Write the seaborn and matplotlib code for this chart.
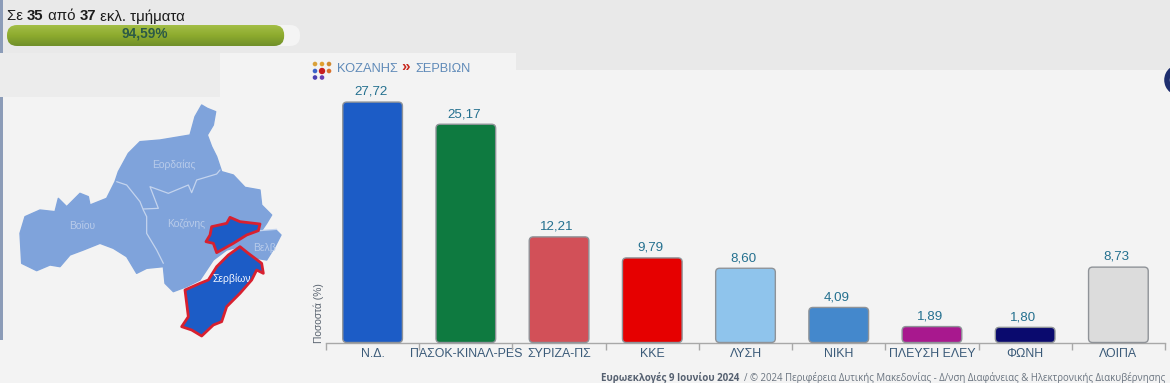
import numpy as np
import matplotlib
matplotlib.use('Agg')
import matplotlib.pyplot as plt
import seaborn as sns
from matplotlib.patches import FancyBboxPatch, Polygon, Rectangle, Circle, Arc
from matplotlib.transforms import IdentityTransform

# data
parties = ['Ν.Δ.', 'ΠΑΣΟΚ-ΚΙΝΑΛ-PES', 'ΣΥΡΙΖΑ-ΠΣ', 'ΚΚΕ', 'ΛΥΣΗ', 'ΝΙΚΗ', 'ΠΛΕΥΣΗ ΕΛΕΥ', 'ΦΩΝΗ', 'ΛΟΙΠΑ']
percent = [27.72, 25.17, 12.21, 9.79, 8.60, 4.09, 1.89, 1.80, 8.73]
party_colors = ['#1c5cc6', '#0e7a40', '#d25058', '#e60000', '#8fc4ec', '#4488cc', '#a8188e', '#0a0a6e', '#dcdcdc']
counted = 35
total = 37
counted_pct = 94.59

region = [(605,15),(622,25),(647,35),(640,75),(622,105),(635,140),(650,170),(665,215),(700,225),(735,262),
          (780,270),(785,315),(815,345),(800,370),(785,392),(830,392),(843,405),(825,440),(800,480),(740,470),
          (720,440),(680,450),(640,480),(600,540),(560,560),(520,575),(495,550),(490,500),(440,505),(410,520),
          (380,470),(340,445),(300,430),(250,450),(210,465),(180,500),(150,495),(110,512),(65,490),(60,400),
          (75,350),(120,330),(165,335),(175,295),(200,320),(240,280),(265,290),(270,315),(320,295),(345,245),
          (355,215),(385,160),(420,125),(480,120),(570,105),(585,50)]
servia_south = [(720,440),(745,460),(785,490),(790,520),(770,510),(755,540),(720,580),(680,620),(665,665),(640,675),
                (605,708),(575,690),(545,680),(565,650),(555,570),(600,550),(625,540),(650,500),(685,465)]
servia_north = [(635,380),(680,370),(690,352),(720,365),(780,372),(775,392),(740,405),(700,430),(650,458),(640,430),
                (618,425),(630,405)]
border_a = [(350,245),(380,255),(420,305),(430,330),(440,350),(440,400),(470,450),(490,490)]
border_b = [(430,327),(475,325),(450,260),(505,280),(565,255),(575,278),(590,240),(650,222),(660,210)]
border_c = [(780,392),(830,388)]


def crop_to_px(pts):
    return [(x / 3, 100 + y / 3) for x, y in pts]


sns.set_style('white')
plt.rcParams['font.family'] = ['Liberation Sans', 'DejaVu Sans']

fig = plt.figure(figsize=(11.7, 3.83), dpi=100, facecolor='#f3f3f3')
renderer = fig.canvas.get_renderer()

# background layer in pixel coords
bg = fig.add_axes([0, 0, 1, 1], zorder=0)
bg.set_xlim(0, 1170)
bg.set_ylim(383, 0)
bg.axis('off')
bg.add_patch(Rectangle((0, 0), 1170, 70, color='#e9e9e9', lw=0))
bg.add_patch(Rectangle((0, 53), 220, 44, color='#ececec', lw=0))
bg.add_patch(Rectangle((220, 53), 296, 17, color='#f3f3f3', lw=0))
bg.add_patch(Rectangle((0, 0), 2.5, 53, color='#8c9cb8', lw=0))
bg.add_patch(Rectangle((0, 97), 2.5, 243, color='#8c9cb8', lw=0))
bg.add_patch(Arc((1180, 80), 26, 26, theta1=130, theta2=230, color='#1f2f6f', lw=4))

# progress text, pieces placed one after another
x = 7
for piece, weight in [('Σε ', 'normal'), (str(counted), 'bold'), (' από ', 'normal'), (str(total), 'bold'), (' εκλ. τμήματα', 'normal')]:
    t = bg.text(x, 16.5, piece.replace(' ', '\u00a0'), fontsize=10.8, fontweight=weight, color='#1c1c1c', va='center', ha='left')
    x = x + t.get_window_extent(renderer).width

# progress bar
track = FancyBboxPatch((7, 25), 293, 21, boxstyle='round,pad=0,rounding_size=10', fc='#f4f4f4', ec='none')
bg.add_patch(track)
fill_w = 293 * counted_pct / 100
fill = FancyBboxPatch((7, 25), fill_w, 21, boxstyle='round,pad=0,rounding_size=10', fc='none', ec='none')
bg.add_patch(fill)
grad = np.linspace(0, 1, 21)[:, None]
img = bg.imshow(grad, extent=(7, 7 + fill_w, 46, 25), aspect='auto', zorder=2,
                cmap=matplotlib.colors.LinearSegmentedColormap.from_list('g', ['#a2bd45', '#8dab2e', '#71902a']))
img.set_clip_path(fill)
bg.set_xlim(0, 1170)
bg.set_ylim(383, 0)
bg.text(144.5, 34, '94,59%', fontsize=9.8, fontweight='bold', color='#2c5a46', ha='center', va='center', zorder=3)

# map
bg.add_patch(Polygon(crop_to_px(region), closed=True, fc='#7fa3db', ec='#7fa3db', lw=1, joinstyle='round', zorder=2))
for line in [border_a, border_b, border_c]:
    pts = np.array(crop_to_px(line))
    bg.plot(pts[:, 0], pts[:, 1], color='#c4d4ee', lw=0.9, zorder=3)
for shape in [servia_south, servia_north]:
    bg.add_patch(Polygon(crop_to_px(shape), closed=True, fc='#1c5cc6', ec='#d8202f', lw=2, joinstyle='round', zorder=4))
for label, px, py in [('Εορδαίας', 174, 165), ('Βοΐου', 82, 226), ('Κοζάνης', 186, 224), ('Βελβ', 264, 248)]:
    bg.text(px, py, label, fontsize=7.5, color='#b8cbea', ha='center', va='center', zorder=3)
bg.text(232, 279, 'Σερβίων', fontsize=7.5, color='#f2f6ff', ha='center', va='center', zorder=5)

# breadcrumb icon
icon_colors = ['#d9a13a', '#e0a030', '#d08a30', '#3c63c8', '#c81e1e', '#d9702a', '#4a3fb0', '#6a3fb0']
icon_spots = [(315, 64), (322, 64), (329, 64), (315, 71), (322, 71), (329, 71), (315, 77.5), (322, 77.5)]
for c, (ix, iy) in zip(icon_colors, icon_spots):
    bg.add_patch(Circle((ix, iy), 2.3, color=c, lw=0, zorder=3))
bg.add_patch(Circle((322, 71), 3.2, color='#c81e1e', lw=0, zorder=3))
bg.text(337, 68.5, 'ΚΟΖΑΝΗΣ', fontsize=9.3, color='#5f8ab8', va='center', ha='left')
bg.text(401, 67.5, '»', fontsize=11, fontweight='bold', color='#c8281e', va='center', ha='left')
bg.text(415, 68.5, 'ΣΕΡΒΙΩΝ', fontsize=9.2, color='#5f8ab8', va='center', ha='left')

# footer
foot = bg.text(601, 378, 'Ευρωεκλογές 9 Ιουνίου 2024 ', fontsize=7, fontweight='bold', color='#556070',
               family=['Open Sans', 'DejaVu Sans'], va='center', ha='left')
foot_x = 601 + foot.get_window_extent(renderer).width
bg.text(foot_x + 2, 378, '/ © 2024 Περιφέρεια Δυτικής Μακεδονίας - Δ/νση Διαφάνειας & Ηλεκτρονικής Διακυβέρνησης', fontsize=6.9,
        color='#6a7480', family=['Open Sans', 'DejaVu Sans'], va='center', ha='left')

# bar chart
ax = fig.add_axes([326 / 1170, 40 / 383, 839 / 1170, 253 / 383], zorder=1)
ax.patch.set_alpha(0)
sns.barplot(x=parties, y=percent, hue=parties, palette=party_colors, legend=False, width=0.64, saturation=1, ax=ax)
ax.set_xlim(-0.5, 8.5)
ax.set_ylim(0, 29.11)
fig.canvas.draw()

# swap square bars for rounded ones
for bar in list(ax.patches):
    (x0, y0), (x1, y1) = ax.transData.transform([(bar.get_x(), 0), (bar.get_x() + bar.get_width(), bar.get_height())])
    ax.add_patch(FancyBboxPatch((x0, y0 + 0.5), x1 - x0, y1 - y0 - 0.5, boxstyle='round,pad=0,rounding_size=4',
                                fc=bar.get_facecolor(), ec='#8f9398', lw=1.0, transform=IdentityTransform(), zorder=3, clip_on=False))
    bar.set_visible(False)

for i, v in enumerate(percent):
    ax.annotate(f'{v:.2f}'.replace('.', ','), (i, v), xytext=(-1.5, 3), textcoords='offset points', ha='center', va='bottom',
                fontsize=9.6, color='#24708f', annotation_clip=False)

sns.despine(ax=ax, left=True)
ax.spines['bottom'].set_color('#a8a8a8')
ax.spines['bottom'].set_linewidth(1)
ax.set_yticks([])
ax.set_xticks(range(len(parties)))
ax.set_xticklabels(parties, fontsize=8.9, color='#3a5a78')
ax.set_xticks(np.arange(-0.5, 9), minor=True)
ax.tick_params(axis='x', which='major', length=0, pad=3.5)
ax.tick_params(axis='x', which='minor', length=5, width=1, color='#a8a8a8', bottom=True)
ax.set_xlabel('')
ax.set_ylabel('')
bg.text(318.5, 313, 'Ποσοστά (%)', rotation=90, fontsize=7.4, color='#5a6470', ha='center', va='center')

fig.savefig('out.png', dpi=100, facecolor=fig.get_facecolor())
